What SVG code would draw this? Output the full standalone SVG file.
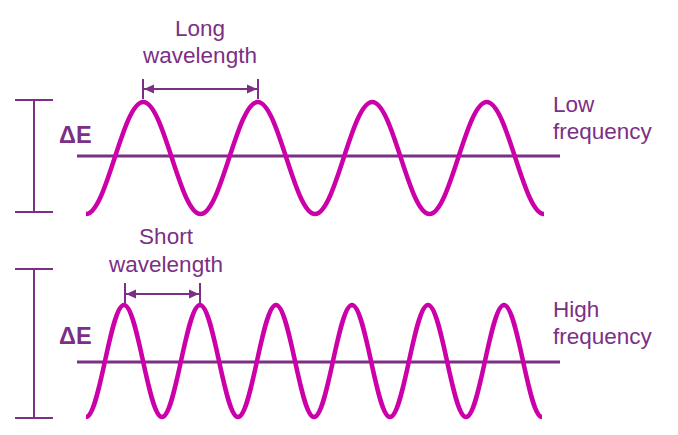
<svg xmlns="http://www.w3.org/2000/svg" width="678" height="435" viewBox="0 0 678 435">
<defs>
<marker id="ah" viewBox="0 0 10 10" refX="10" refY="5" markerWidth="10" markerHeight="10" markerUnits="userSpaceOnUse" orient="auto-start-reverse">
<path d="M0,0.5 L10,5 L0,9.5 Z" fill="#7B2F85"/>
</marker>
</defs>
<style>
.lbl{font-family:"Liberation Sans",Arial,sans-serif;font-size:22.5px;fill:#7B2F85}
.de{font-family:"Liberation Sans",Arial,sans-serif;font-size:23.5px;font-weight:bold;fill:#7B2F85}
.thin{stroke:#7B2F85;stroke-width:2;fill:none}
.axis{stroke:#7B2F85;stroke-width:3;fill:none}
.wave{stroke:#CC00A8;stroke-width:4.5;fill:none}
</style>
<rect width="678" height="435" fill="#ffffff"/>
<g id="top-energy">
<path class="thin" d="M34,100 V212 M15,100 H53 M15,212 H53"/>
<text class="de" x="59" y="143">ΔE</text>
</g>
<g id="top-axis"><path class="axis" d="M77,156 H560"/></g>
<g id="top-wave">
<path class="wave" d="M86,214 c20.8,0 36.45,-112 57.25,-112 s36.45,112 57.25,112 s36.45,-112 57.25,-112 s36.45,112 57.25,112 s36.45,-112 57.25,-112 s36.45,112 57.25,112 s36.45,-112 57.25,-112 s36.45,112 57.25,112"/>
</g>
<g id="top-labels">
<text class="lbl" x="200" y="36" text-anchor="middle">Long</text>
<text class="lbl" x="200" y="63" text-anchor="middle">wavelength</text>
<text class="lbl" x="553" y="112">Low</text>
<text class="lbl" x="553" y="139">frequency</text>
</g>
<g id="bottom-energy">
<path class="thin" d="M34,269 V418 M15,269 H53 M15,418 H53"/>
<text class="de" x="59" y="344">ΔE</text>
</g>
<g id="bottom-axis"><path class="axis" d="M77,362 H560"/></g>
<g id="bottom-wave">
<path class="wave" d="M86,417 c13.8,0 24.2,-112 38,-112 s24.2,112 38,112 s24.2,-112 38,-112 s24.2,112 38,112 s24.2,-112 38,-112 s24.2,112 38,112 s24.2,-112 38,-112 s24.2,112 38,112 s24.2,-112 38,-112 s24.2,112 38,112 s24.2,-112 38,-112 s24.2,112 38,112"/>
</g>
<g id="bottom-labels">
<text class="lbl" x="166" y="244" text-anchor="middle">Short</text>
<text class="lbl" x="166" y="272" text-anchor="middle">wavelength</text>
<text class="lbl" x="553" y="317">High</text>
<text class="lbl" x="553" y="344">frequency</text>
</g>
<g id="connectors">
<path class="thin" d="M143,79 V99 M258,79 V99"/>
<path class="thin" d="M144,89 H257" marker-start="url(#ah)" marker-end="url(#ah)"/>
<path class="thin" d="M125,283 V303 M200,283 V303"/>
<path class="thin" d="M126,294 H199" marker-start="url(#ah)" marker-end="url(#ah)"/>
</g>
</svg>
